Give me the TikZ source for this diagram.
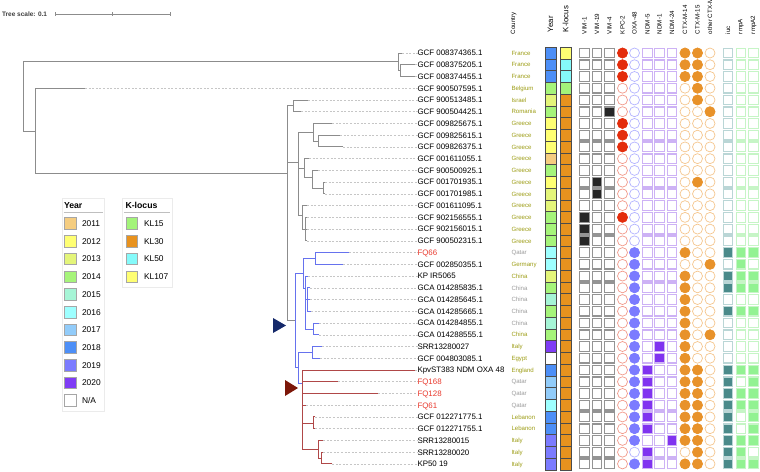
\documentclass[tikz,border=0pt]{standalone}
\usepackage{fontspec}
\setmainfont{Liberation Sans}
\usepackage{xcolor}
\definecolor{treeGrey}  {HTML}{8C8C8C}
\definecolor{leadGrey}  {HTML}{C6C6C6}
\definecolor{cladeBlue} {HTML}{6672EE}
\definecolor{cladeRed}  {HTML}{B04848}
\definecolor{triNavy}   {HTML}{15296A}
\definecolor{triRed}    {HTML}{7C1709}
\definecolor{fqRed}     {HTML}{E83A2E}
\definecolor{ctryOlive} {HTML}{9C9C14}
\definecolor{ctryGrey}  {HTML}{9A9A9A}
\definecolor{y2011}     {HTML}{F5CD80}
\definecolor{y2012}     {HTML}{FFFF73}
\definecolor{y2013}     {HTML}{E4F57A}
\definecolor{y2014}     {HTML}{A6F47A}
\definecolor{y2015}     {HTML}{A6F5D6}
\definecolor{y2016}     {HTML}{9EFFFF}
\definecolor{y2017}     {HTML}{92CCFA}
\definecolor{y2018}     {HTML}{4D8FF7}
\definecolor{y2019}     {HTML}{7B7BFF}
\definecolor{y2020}     {HTML}{7F3CF5}
\definecolor{kl15}      {HTML}{A3F47A}
\definecolor{kl30}      {HTML}{E8921E}
\definecolor{kl50}      {HTML}{85FAFA}
\definecolor{kl107}     {HTML}{FFFF73}
\definecolor{kpcFill}   {HTML}{E42D0C}
\definecolor{kpcEdge}   {HTML}{F2998A}
\definecolor{oxaFill}   {HTML}{7B7BFF}
\definecolor{oxaEdge}   {HTML}{B4B4FF}
\definecolor{ndmFill}   {HTML}{8033F0}
\definecolor{ndmEdge}   {HTML}{CDB2F5}
\definecolor{ctxFill}   {HTML}{E8922A}
\definecolor{ctxEdge}   {HTML}{F5C68E}
\definecolor{iucFill}   {HTML}{4A8A8A}
\definecolor{iucEdge}   {HTML}{BAD6D6}
\definecolor{rmpFill}   {HTML}{92F292}
\definecolor{rmpEdge}   {HTML}{C6F5C6}
\usetikzlibrary{positioning, calc}
\newcommand{\rowy}[1]{(53+(#1-1)*11.74)}

\begin{document}
\begin{tikzpicture}[x=1pt, y=-1pt,
    every node/.style={inner sep=0pt, outer sep=0pt},
    branch/.style={draw=treeGrey, line width=0.9pt, line cap=rect},
    bluebr/.style={branch, draw=cladeBlue},
    redbr/.style={branch, draw=cladeRed},
    lead/.style={draw=leadGrey, line width=0.5pt, dash pattern=on 2pt off 1.6pt},
    tipname/.style={anchor=west, font=\fontsize{7.9}{9}\selectfont, text height=5.7pt, text depth=0pt},
    ctry/.style={anchor=west, font=\fontsize{6.1}{7}\selectfont, text height=4.4pt, text depth=0pt},
    hdr/.style={rotate=90, anchor=west, font=\fontsize{6.2}{7}\selectfont},
    bighdr/.style={hdr, font=\fontsize{7.8}{9}\selectfont},
    yearcell/.style={draw=black!70, line width=0.5pt},
    vimoff/.style={draw=black!42, line width=1.3pt, fill=white},
    vimon/.style={vimoff, fill=black!85},
    ndmoff/.style={draw=ndmEdge, line width=1.3pt, fill=white},
    ndmon/.style={ndmoff, fill=ndmFill},
    iucoff/.style={draw=iucEdge, line width=1.3pt, fill=white},
    iucon/.style={iucoff, fill=iucFill},
    rmpoff/.style={draw=rmpEdge, line width=1.3pt, fill=white},
    rmpon/.style={rmpoff, fill=rmpFill},
    kpcoff/.style={draw=kpcEdge, line width=0.7pt, fill=white},
    kpcon/.style={draw=kpcFill, fill=kpcFill, line width=0.7pt},
    oxaoff/.style={draw=oxaEdge, line width=0.7pt, fill=white},
    oxaon/.style={draw=oxaFill, fill=oxaFill, line width=0.7pt},
    ctxoff/.style={draw=ctxEdge, line width=0.7pt, fill=white},
    ctxon/.style={draw=ctxFill, fill=ctxFill, line width=0.7pt},
    legbox/.style={draw=black!8, fill=white, line width=0.6pt},
    legttl/.style={anchor=west, font=\bfseries\fontsize{8.7}{10}\selectfont},
    legtxt/.style={anchor=west, font=\fontsize{8.4}{10}\selectfont, text height=6pt, text depth=0pt},
    swatch/.style={draw=black!35, line width=0.6pt}
]
\useasboundingbox (0,0) rectangle (760,471);

% Tree scale
\node[anchor=west, text=black!75, font=\bfseries\fontsize{6.5}{8}\selectfont] (scale) at (2,14) {Tree scale: 0.1};
\draw[branch, line width=0.6pt] (55,14) -- (170,14);
\foreach \xx in {55,112.5,170}
  \draw[branch, line width=0.6pt] (\xx,12.5) -- (\xx,15.5);

% Internal nodes
\coordinate (root) at (23,96.4);
\coordinate (fr)   at (398,61.7);
\coordinate (fr2)  at (400,70.6);
\coordinate (n1)   at (35,131);
\coordinate (A)    at (287,173);
\coordinate (IR)   at (293,105.8);
\coordinate (G)    at (298,162);
\coordinate (G1)   at (313,132);
\coordinate (G1b)  at (318,141);
\coordinate (G3)   at (304,168);
\coordinate (G3b)  at (312,177);
\coordinate (G3c)  at (323,188);
\coordinate (G4)   at (302,215);
\coordinate (G4b)  at (305,229);
\coordinate (B)    at (295,320);
\coordinate (B1)   at (303,273);
\coordinate (Q)    at (315,258.5);
\coordinate (B1b)  at (305,288);
\coordinate (C)    at (307,299.5);
\coordinate (D)    at (313,329);
\coordinate (B2)   at (298,367.5);
\coordinate (E)    at (312,352.4);
\coordinate (R)    at (302,383);
\coordinate (L)    at (313,423);
\coordinate (I)    at (318,449);
\coordinate (I2)   at (321,458);

% Tips
\foreach \r/\tx in {1/402, 2/415, 3/415, 4/85, 5/308, 6/301, 7/332, 8/340, 9/343,
    10/309, 11/318, 12/325, 13/325, 14/307, 15/307, 16/307, 17/307, 18/349,
    19/343, 20/308, 21/310, 22/310, 23/311, 24/319, 25/319, 26/322, 27/320,
    28/415, 29/338, 30/378, 31/306, 32/315, 33/315, 34/323, 35/323, 36/332}
  \coordinate (t\r) at (\tx,{\rowy{\r}});

% Grey part of the tree
\draw[branch] (root) |- (fr) (root) |- (n1);
\draw[branch] (fr) |- (t1) (fr) |- (fr2) (fr2) |- (t2) (fr2) |- (t3);
\draw[branch] (n1) |- (t4) (n1) |- (A);
\draw[branch] (A) |- (IR) (A) |- (G) (A) |- (B);
\draw[branch] (IR) |- (t5) (IR) |- (t6);
\draw[branch] (G) |- (G1) (G) |- (G3) (G) |- (G4);
\draw[branch] (G1) |- (t7) (G1) |- (G1b) (G1b) |- (t8) (G1b) |- (t9);
\draw[branch] (G3) |- (t10) (G3) |- (G3b) (G3b) |- (t11) (G3b) |- (G3c);
\draw[branch] (G3c) |- (t12) (G3c) |- (t13);
\draw[branch] (G4) |- (t14) (G4) |- (G4b);
\draw[branch] (G4b) |- (t15) (G4b) |- (t16) (G4b) |- (t17);
% Blue clade
\draw[bluebr] (B) |- (B1) (B) |- (B2);
\draw[bluebr] (B1) |- (Q) (Q) |- (t18) (Q) |- (t19) (B1) |- (B1b);
\draw[bluebr] (B1b) |- (t20) (B1b) |- (C) (B1b) |- (D);
\draw[bluebr] (C) |- (t21) (C) |- (t22) (C) |- (t23);
\draw[bluebr] (D) |- (t24) (D) |- (t25);
\draw[bluebr] (B2) |- (E) (E) |- (t26) (E) |- (t27) (B2) |- (R);
% Red clade
\draw[redbr] (R) |- (t28) (R) |- (t29) (R) |- (t30) (R) |- (t31);
\draw[redbr] (R) |- (L) (L) |- (t32) (L) |- (t33);
\draw[redbr] (R) |- (I) (I) |- (t34) (I) |- (I2) (I2) |- (t35) (I2) |- (t36);

% Clade markers
\fill[triNavy] (273,318) -- (286,325.5) -- (273,333) -- cycle;
\fill[triRed]  (285,380) -- (298,388) -- (285,396) -- cycle;

% Leaf labels and countries
\foreach \r/\nm/\lc/\ct/\cc in {
    1/GCF 008374365.1/black/France/ctryOlive,
    2/GCF 008375205.1/black/France/ctryOlive,
    3/GCF 008374455.1/black/France/ctryOlive,
    4/GCF 900507595.1/black/Belgium/ctryOlive,
    5/GCF 900513485.1/black/Israel/ctryOlive,
    6/GCF 900504425.1/black/Romania/ctryOlive,
    7/GCF 009825675.1/black/Greece/ctryOlive,
    8/GCF 009825615.1/black/Greece/ctryOlive,
    9/GCF 009826375.1/black/Greece/ctryOlive,
    10/GCF 001611055.1/black/Greece/ctryOlive,
    11/GCF 900500925.1/black/Greece/ctryOlive,
    12/GCF 001701935.1/black/Greece/ctryOlive,
    13/GCF 001701985.1/black/Greece/ctryOlive,
    14/GCF 001611095.1/black/Greece/ctryOlive,
    15/GCF 902156555.1/black/Greece/ctryOlive,
    16/GCF 902156015.1/black/Greece/ctryOlive,
    17/GCF 900502315.1/black/Greece/ctryOlive,
    18/FQ66/fqRed/Qatar/ctryGrey,
    19/GCF 002850355.1/black/Germany/ctryOlive,
    20/KP IR5065/black/China/ctryOlive,
    21/GCA 014285835.1/black/China/ctryGrey,
    22/GCA 014285645.1/black/China/ctryGrey,
    23/GCA 014285665.1/black/China/ctryGrey,
    24/GCA 014284855.1/black/China/ctryGrey,
    25/GCA 014288555.1/black/China/ctryOlive,
    26/SRR13280027/black/Italy/ctryOlive,
    27/GCF 004803085.1/black/Egypt/ctryOlive,
    28/KpvST383 NDM OXA 48/black/England/ctryOlive,
    29/FQ168/fqRed/Qatar/ctryGrey,
    30/FQ128/fqRed/Qatar/ctryGrey,
    31/FQ61/fqRed/Qatar/ctryGrey,
    32/GCF 012271775.1/black/Lebanon/ctryOlive,
    33/GCF 012271755.1/black/Lebanon/ctryOlive,
    34/SRR13280015/black/Italy/ctryOlive,
    35/SRR13280020/black/Italy/ctryOlive,
    36/KP50 19/black/Italy/ctryOlive}{
  \node[tipname, text=\lc] (lab\r) at (417.5,{\rowy{\r}}) {\nm};
  \node[ctry, text=\cc] (cty\r) at (511.5,{\rowy{\r}}) {\ct};
  \draw[lead] (t\r) -- (lab\r.west);
}

% Column headers
\node[hdr] (hcountry) at (513.5,34) {Country};
\node[bighdr] (hyear) at (550.5,32) {Year};
\node[bighdr] (hkl) at (565.5,32) {K-locus};
\foreach \cx/\txt [count=\i] in {584.5/VIM-1, 597/VIM-19, 609.5/VIM-4, 622.5/KPC-2,
    634.5/OXA-48, 647.5/NDM-5, 659.5/NDM-1, 672/NDM-24, 685/CTX-M-14,
    697.5/CTX-M-15, 710/other CTX-M, 728/iuc, 741/rmpA, 753.5/rmpA2}
  \node[hdr] (hg\i) at (\cx,34) {\txt};

% Year strip
\foreach \r/\c in {1/y2018, 2/y2018, 3/y2018, 4/y2014, 5/y2013, 6/y2014, 7/y2012,
    8/y2012, 9/y2012, 10/y2011, 11/y2014, 12/y2012, 13/y2013, 14/y2013, 15/y2014,
    16/y2014, 17/y2014, 18/y2016, 19/y2016, 20/y2013, 21/y2014, 22/y2015, 23/y2014,
    24/y2015, 25/y2014, 26/y2020, 27/white, 28/y2018, 29/y2017, 30/y2017, 31/y2016,
    32/y2018, 33/y2018, 34/y2019, 35/y2019, 36/y2019}
  \path[yearcell, fill=\c] (545,{\rowy{\r}-5.87}) rectangle (556,{\rowy{\r}+5.87});
% K-locus strip
\foreach \r/\c in {1/kl107, 2/kl50, 3/kl50, 4/kl15}
  \path[yearcell, fill=\c] (560,{\rowy{\r}-5.87}) rectangle (571,{\rowy{\r}+5.87});
\foreach \r in {5,...,36}
  \path[yearcell, fill=kl30] (560,{\rowy{\r}-5.87}) rectangle (571,{\rowy{\r}+5.87});

% Box columns: x / absent / present / rows
\foreach \cx/\off/\on/\rows in {
    584.5/vimoff/vimon/{15,16,17},
    597/vimoff/vimon/{12,13},
    609.5/vimoff/vimon/{6},
    647.5/ndmoff/ndmon/{28,29,30,31,32,33,35,36},
    659.5/ndmoff/ndmon/{26,27},
    672/ndmoff/ndmon/{34},
    728/iucoff/iucon/{18,20,21,23,28,29,30,31,32,33,34,35,36},
    741/rmpoff/rmpon/{18,19,20,21,23,28,30,31,34,35,36},
    753.5/rmpoff/rmpon/{18,20,21,23,28,29,30,31,32,33,34,36}}{
  \foreach \r in {1,...,36}
    \path[\off] ({\cx-4.8},{\rowy{\r}-4.8}) rectangle ({\cx+4.8},{\rowy{\r}+4.8});
  \foreach \r in \rows
    \path[\on] ({\cx-4.8},{\rowy{\r}-4.8}) rectangle ({\cx+4.8},{\rowy{\r}+4.8});
}

% Circle columns: x / absent / present / rows
\foreach \cx/\off/\on/\rows in {
    622.5/kpcoff/kpcon/{1,2,3,7,8,9,15},
    634.5/oxaoff/oxaon/{18,19,20,21,22,23,24,25,26,27,28,29,30,31,32,33,34,36},
    685/ctxoff/ctxon/{1,2,3,18,20,21,22,23,24,25,26,27,28,29,30,31,32,33,34,36},
    697.5/ctxoff/ctxon/{1,2,3,4,5,12,28,29,30,31,32,33,34,35,36},
    710/ctxoff/ctxon/{6,19,25}}{
  \foreach \r in {1,...,36}
    \path[\off] (\cx,{\rowy{\r}}) circle (5pt);
  \foreach \r in \rows
    \path[\on] (\cx,{\rowy{\r}}) circle (5pt);
}

% Year legend
\path[legbox] (62,198) rectangle (104.5,411);
\node[legttl] (ttlyear) at (64,205.5) {Year};
\draw[black!25, line width=1.2pt] (63.5,212.5) -- (103,212.5);
\foreach \c/\t [count=\k from 0] in {y2011/2011, y2012/2012, y2013/2013, y2014/2014,
    y2015/2015, y2016/2016, y2017/2017, y2018/2018, y2019/2019, y2020/2020}{
  \path[swatch, fill=\c] (64.5,{223.5+\k*17.7-5.8}) rectangle (76,{223.5+\k*17.7+5.8});
  \node[legtxt] (ly\k) at (82,{223.5+\k*17.7}) {\t};
}
\path[swatch, fill=white] (64.5,394.7) rectangle (76,406.3);
\node[legtxt] (lyna) at (82,400.5) {N/A};

% K-locus legend
\path[legbox] (122,198) rectangle (172,287);
\node[legttl] (ttlkl) at (125.5,205.5) {K-locus};
\draw[black!25, line width=1.2pt] (124,212.5) -- (170,212.5);
\foreach \c/\t [count=\k from 0] in {kl15/KL15, kl30/KL30, kl50/KL50, kl107/KL107}{
  \path[swatch, fill=\c] (126,{223.5+\k*17.7-5.8}) rectangle (137.5,{223.5+\k*17.7+5.8});
  \node[legtxt] (lk\k) at (144,{223.5+\k*17.7}) {\t};
}
\end{tikzpicture}
\end{document}
